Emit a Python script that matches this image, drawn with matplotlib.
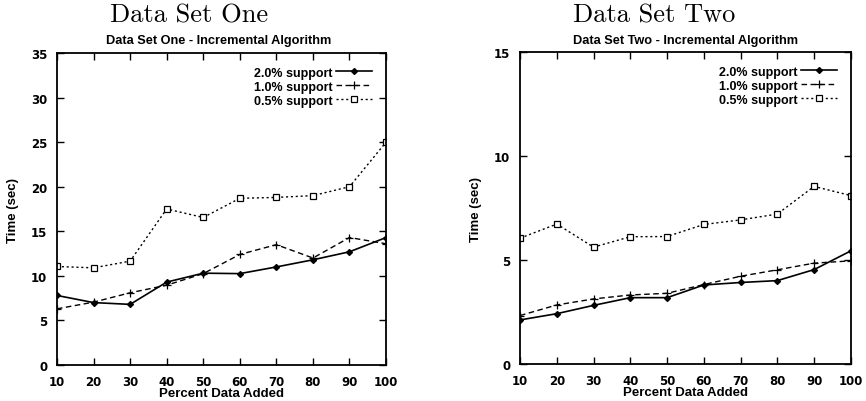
import matplotlib
matplotlib.use("Agg")
import matplotlib.pyplot as plt

x = [10, 20, 30, 40, 50, 60, 70, 80, 90, 100]
labels = ["2.0% support", "1.0% support", "0.5% support"]

one_20 = [7.8, 7.0, 6.8, 9.3, 10.3, 10.25, 11.0, 11.8, 12.7, 14.3]
one_10 = [6.3, 7.05, 8.1, 8.95, 10.25, 12.4, 13.5, 12.0, 14.3, 13.6]
one_05 = [11.05, 10.9, 11.65, 17.5, 16.55, 18.7, 18.8, 19.0, 20.0, 25.0]

two_20 = [2.12, 2.42, 2.82, 3.19, 3.19, 3.8, 3.92, 4.01, 4.54, 5.44]
two_10 = [2.33, 2.84, 3.13, 3.32, 3.4, 3.82, 4.22, 4.53, 4.85, 4.96]
two_05 = [6.05, 6.73, 5.62, 6.12, 6.13, 6.71, 6.93, 7.21, 8.54, 8.1]

fig = plt.figure(figsize=(8.66, 4.02), dpi=100)
sans = "Liberation Sans"

def panel(rect, series, ymax, yticks, big, small, big_x, small_x):
    ax = fig.add_axes(rect)
    styles = [dict(ls="-", marker="D", ms=3, mfc="black", lw=1.2),
              dict(ls=(0, (4, 2.5)), marker="+", ms=6, mew=0.9, lw=1.0),
              dict(ls=(0, (1.5, 2)), marker="s", ms=4.5, mfc="white", mew=0.9, lw=1.0)]
    for y, lab, st in zip(series, labels, styles):
        ax.plot(x, y, color="black", label=lab, **st)
    ax.set_xlim(10, 100)
    ax.set_ylim(0, ymax)
    ax.set_xticks(x)
    ax.set_yticks(yticks)
    ax.tick_params(direction="in", top=True, right=True, length=5, width=1,
                   labelsize=8.5)
    ax.tick_params(axis="x", pad=7)
    ax.tick_params(axis="y", pad=7)
    for t in ax.get_xticklabels() + ax.get_yticklabels():
        t.set_fontfamily("DejaVu Sans")
        t.set_fontweight("bold")
    for s in ax.spines.values():
        s.set_linewidth(1.3)
    ax.set_xlabel("Percent Data Added", fontfamily=sans, fontweight="bold",
                  fontsize=9.5)
    ax.xaxis.set_label_coords(0.5, -0.072)
    ax.set_ylabel("Time (sec)", fontfamily=sans, fontweight="bold",
                  fontsize=9.5)
    ax.yaxis.set_label_coords(-0.134, 0.5)
    ax.yaxis.label.set_va("center")
    ax.legend(loc="upper right", frameon=False, markerfirst=False,
              prop=dict(family=sans, weight="bold", size=9),
              handlelength=2.9, handletextpad=0.25, labelspacing=0.15,
              borderaxespad=0.7, borderpad=0.4)
    fig.text(small_x, 0.898, small, ha="center", va="center",
             fontfamily=sans, fontweight="bold", fontsize=9.2)
    fig.text(big_x, 0.962, big, ha="center", va="center",
             fontfamily="cmr10", fontsize=19)
    return ax

panel([0.0658, 0.0896, 0.380, 0.776], [one_20, one_10, one_05], 35,
      [0, 5, 10, 15, 20, 25, 30, 35], "Data Set One",
      "Data Set One - Incremental Algorithm", 0.218, 0.253)
panel([0.6005, 0.092, 0.382, 0.776], [two_20, two_10, two_05], 15,
      [0, 5, 10, 15], "Data Set Two",
      "Data Set Two - Incremental Algorithm", 0.755, 0.791)

fig.savefig("out.png", dpi=100)
